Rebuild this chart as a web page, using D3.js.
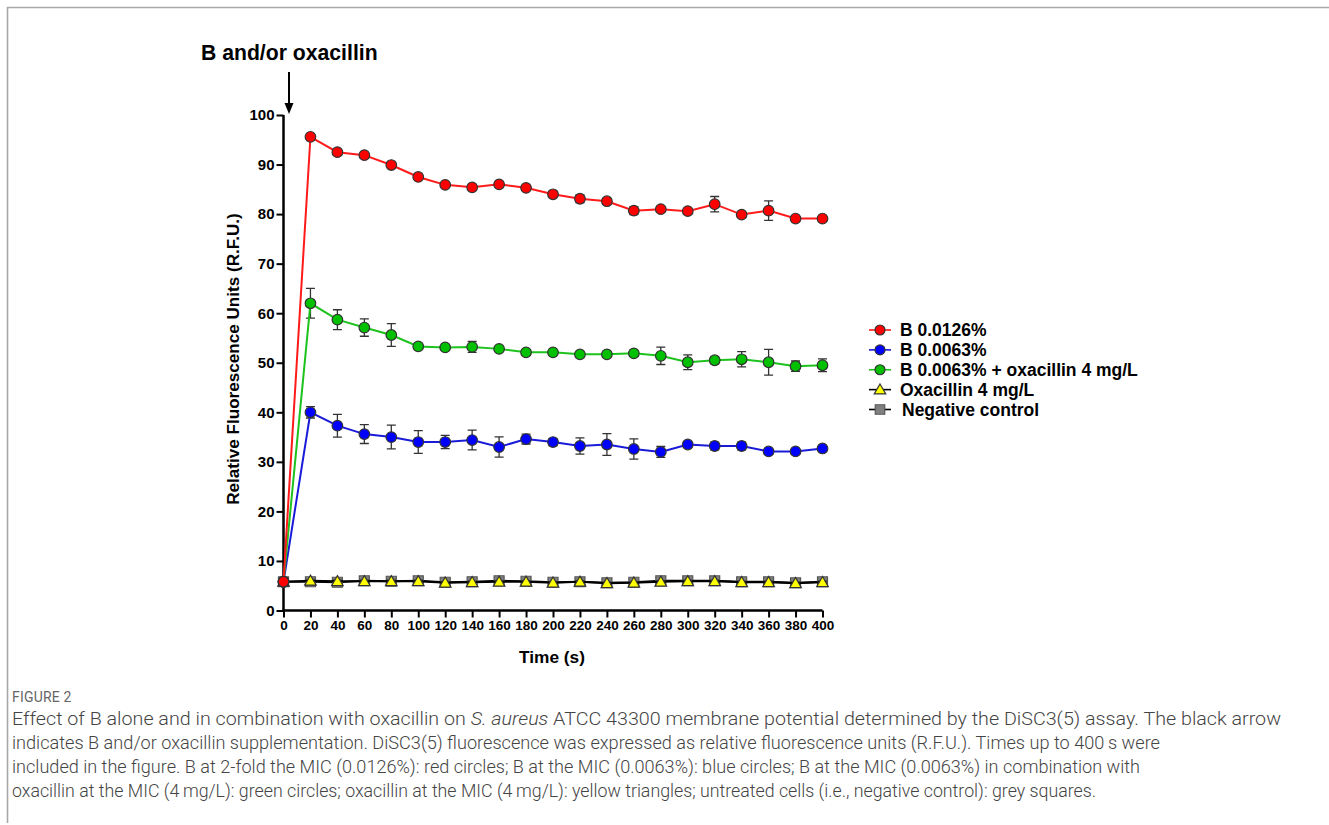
<!DOCTYPE html>
<html><head><meta charset="utf-8">
<script src="https://cdn.jsdelivr.net/npm/d3@7/dist/d3.min.js"></script>
<style>
body{margin:0;background:#fff;}
svg{display:block;}
</style></head>
<body>
<svg id="chart" width="1329" height="825"></svg>
<script>
const times = [0,20,40,60,80,100,120,140,160,180,200,220,240,260,280,300,320,340,360,380,400];
const xTicks = [0,20,40,60,80,100,120,140,160,180,200,220,240,260,280,300,320,340,360,380,400];
const yTicks = [0,10,20,30,40,50,60,70,80,90,100];

const redMean = [5.8,95.6,92.5,91.9,89.9,87.5,85.9,85.4,86.0,85.3,84.0,83.1,82.6,80.7,81.0,80.6,82.0,79.9,80.7,79.1,79.1];
const redErr  = [0,0.3,0.3,0.3,0.3,0.3,0.3,0.3,0.3,0.3,0.5,0.8,0.4,0.8,0.4,0.3,1.55,0.4,1.95,0.3,0.3];
const blueMean = [5.8,40.0,37.3,35.6,35.0,34.0,34.0,34.4,33.0,34.6,34.0,33.2,33.5,32.6,32.0,33.5,33.2,33.2,32.1,32.1,32.7];
const blueErr  = [0,1.15,2.3,1.9,2.4,2.3,1.35,2.0,2.05,1.0,0.7,1.65,2.2,2.05,1.1,0.4,0.8,0.8,0.6,0.3,0.3];
const greenMean = [5.8,62.0,58.7,57.1,55.6,53.3,53.1,53.2,52.8,52.1,52.1,51.7,51.7,51.9,51.4,50.1,50.5,50.7,50.1,49.3,49.5];
const greenErr  = [0,3.0,2.0,1.75,2.3,0.3,0.3,1.1,0.3,0.3,0.3,0.3,0.3,0.6,1.75,1.5,0.7,1.55,2.6,1.05,1.3];
const yellowMean = [5.8,6.0,5.9,5.9,5.9,5.9,5.6,5.7,5.8,5.8,5.6,5.8,5.5,5.6,5.8,5.9,5.9,5.7,5.7,5.5,5.7];
const yellowErr  = [0,0.2,0.2,0.2,0.2,0.2,0.2,0.2,0.2,0.2,0.2,0.2,0.2,0.2,0.2,0.2,0.2,0.2,0.2,0.2,0.2];
const greyMean = [5.8,5.8,5.7,6.0,5.9,6.0,5.7,5.8,6.0,5.9,5.7,5.8,5.6,5.7,6.0,6.0,6.0,5.8,5.8,5.6,5.8];
const greyErr  = [0,0.2,0.2,0.2,0.2,0.2,0.2,0.2,0.2,0.2,0.2,0.2,0.2,0.2,0.2,0.2,0.2,0.2,0.2,0.2,0.2];

const seriesNames = ["B 0.0126%","B 0.0063%","B 0.0063% + oxacillin 4 mg/L","Oxacillin 4 mg/L","Negative control"];
const titleText = "B and/or oxacillin";
const xLabel = "Time (s)";
const yLabel = "Relative Fluorescence Units (R.F.U.)";
const captionHead = "FIGURE 2";

const series = [
  {name: seriesNames[0], mean: redMean, err: redErr, line: "#ff1a1a", fill: "#ff0000", shape: "circle"},
  {name: seriesNames[1], mean: blueMean, err: blueErr, line: "#1a1ad9", fill: "#0000ff", shape: "circle"},
  {name: seriesNames[2], mean: greenMean, err: greenErr, line: "#1ec21e", fill: "#00c000", shape: "circle"},
  {name: seriesNames[3], mean: yellowMean, err: yellowErr, line: "#000000", fill: "#ffff00", shape: "triangle"},
  {name: seriesNames[4], mean: greyMean, err: greyErr, line: "#000000", fill: "#808080", shape: "square"}
];
const drawOrder = [4,3,1,2,0];

const svg = d3.select("#chart");
const F = "Liberation Sans, Arial, sans-serif";

svg.append("path").attr("d","M7.5,823 V7.5 H1329").attr("fill","none").attr("stroke","#a8a8a8").attr("stroke-width",1.6);

const x = d3.scaleLinear().domain([0,400]).range([283.5,822.5]);
const y = d3.scaleLinear().domain([0,100]).range([610.5,115]);

const yAxis = svg.append("g").attr("transform",`translate(${x(0)},0)`)
  .call(d3.axisLeft(y).tickValues(yTicks).tickSize(7).tickPadding(2).tickFormat(d3.format("d")));
const xAxis = svg.append("g").attr("transform",`translate(0,${y(0)})`)
  .call(d3.axisBottom(x).tickValues(xTicks).tickSize(7).tickPadding(3).tickFormat(d3.format("d")));
[yAxis,xAxis].forEach(a=>{
  a.select(".domain").attr("stroke","#000").attr("stroke-width",2.5);
  a.selectAll(".tick line").attr("stroke","#000").attr("stroke-width",2);
  a.selectAll(".tick text").attr("fill","#000").attr("font-family",F).attr("font-weight","bold");
});
yAxis.selectAll(".tick text").attr("font-size",15);
xAxis.selectAll(".tick text").attr("font-size",13.5);
yAxis.select(".domain").attr("d",`M0,${y(0)+1}V${y(100)}`);
xAxis.select(".domain").attr("d",`M${x(0)-1},0H${x(400)}`);

const line = d3.line().x((d,i)=>x(times[i])).y(d=>y(d));
const symbolPath = {
  circle: d3.symbol().type(d3.symbolCircle).size(Math.PI*5.3*5.3),
  triangle: d3.symbol().type(d3.symbolTriangle).size(58),
  square: d3.symbol().type(d3.symbolSquare).size(100)
};

drawOrder.forEach(k=>{
  const s = series[k];
  const g = svg.append("g");
  s.mean.forEach((m,i)=>{
    const e = s.err[i];
    if(e<=0) return;
    const cx = x(times[i]);
    g.append("path")
      .attr("d",`M${cx},${y(m-e)}V${y(m+e)}M${cx-4.5},${y(m+e)}H${cx+4.5}M${cx-4.5},${y(m-e)}H${cx+4.5}`)
      .attr("stroke","#333").attr("stroke-width",1.3).attr("fill","none");
  });
  g.append("path").datum(s.mean).attr("d",line).attr("fill","none")
    .attr("stroke",s.line).attr("stroke-width",s.shape==="circle"?2:1.8);
  g.selectAll(".m").data(s.mean).enter().append("path")
    .attr("transform",(d,i)=>`translate(${x(times[i])},${y(d)+(s.shape==="triangle"?1:0)})`)
    .attr("d",symbolPath[s.shape]())
    .attr("fill",s.fill).attr("stroke",s.shape==="square"?"#555":"#333").attr("stroke-width",1.2);
});

svg.append("text").attr("x",201).attr("y",60).text(titleText)
  .attr("font-family",F).attr("font-weight","bold").attr("font-size",21.2).attr("fill","#000");
svg.append("path").attr("d","M289,72V106").attr("stroke","#000").attr("stroke-width",2);
svg.append("path").attr("d","M284.5,103L289,114L293.5,103Z").attr("fill","#000");

svg.append("text").attr("x",552).attr("y",663).attr("text-anchor","middle").text(xLabel)
  .attr("font-family",F).attr("font-weight","bold").attr("font-size",17.3).attr("fill","#000");
svg.append("text").attr("transform","translate(239,359) rotate(-90)").attr("text-anchor","middle").text(yLabel)
  .attr("font-family",F).attr("font-weight","bold").attr("font-size",17.1).attr("fill","#000");

const leg = svg.append("g");
const legY = d3.scaleLinear().domain([0,4]).range([330,409.5]);
series.forEach((s,i)=>{
  const cy = legY(i);
  leg.append("path").attr("d",`M869,${cy}H891`).attr("stroke",s.line).attr("stroke-width",1.6);
  const sz = s.shape==="circle"? Math.PI*5*5 : (s.shape==="triangle"?58:90);
  const sym = s.shape==="circle"?d3.symbolCircle:(s.shape==="triangle"?d3.symbolTriangle:d3.symbolSquare);
  leg.append("path").attr("transform",`translate(880,${cy+(s.shape==="triangle"?1:0)})`)
    .attr("d",d3.symbol().type(sym).size(sz)())
    .attr("fill",s.fill).attr("stroke",s.shape==="square"?"#555":"#333").attr("stroke-width",1.2);
  leg.append("text").attr("x",i===4?902:900).attr("y",cy+6).text(s.name)
    .attr("font-family",F).attr("font-weight","bold").attr("font-size",17.5).attr("fill","#000");
});

const CF = "Roboto, Lato, sans-serif";
svg.append("text").attr("x",12).attr("y",702).text(captionHead)
  .attr("font-family",CF).attr("font-size",14).attr("fill","#666").attr("letter-spacing",0.2);
const capLines = [
  [{t:"Effect of B alone and in combination with oxacillin on "},{t:"S. aureus",i:true},{t:" ATCC 43300 membrane potential determined by the DiSC3(5) assay. The black arrow"}],
  [{t:"indicates B and/or oxacillin supplementation. DiSC3(5) fluorescence was expressed as relative fluorescence units (R.F.U.). Times up to 400\u2009s were"}],
  [{t:"included in the figure. B at 2-fold the MIC (0.0126%): red circles; B at the MIC (0.0063%): blue circles; B at the MIC (0.0063%) in combination with"}],
  [{t:"oxacillin at the MIC (4\u2009mg/L): green circles; oxacillin at the MIC (4\u2009mg/L): yellow triangles; untreated cells (i.e., negative control): grey squares."}]
];
const capW = [1269, 1148, 1128, 1084];
capLines.forEach((ln,i)=>{
  const t = svg.append("text").attr("x",12).attr("y",725+i*24)
    .attr("font-family",CF).attr("font-weight",300).attr("font-size",17.5).attr("fill","#444");
  ln.forEach(p=>{
    const ts = t.append("tspan").text(p.t);
    if(p.i) ts.attr("font-style","italic");
  });
  t.attr("textLength",capW[i]).attr("lengthAdjust","spacingAndGlyphs");
});
</script>
</body></html>
